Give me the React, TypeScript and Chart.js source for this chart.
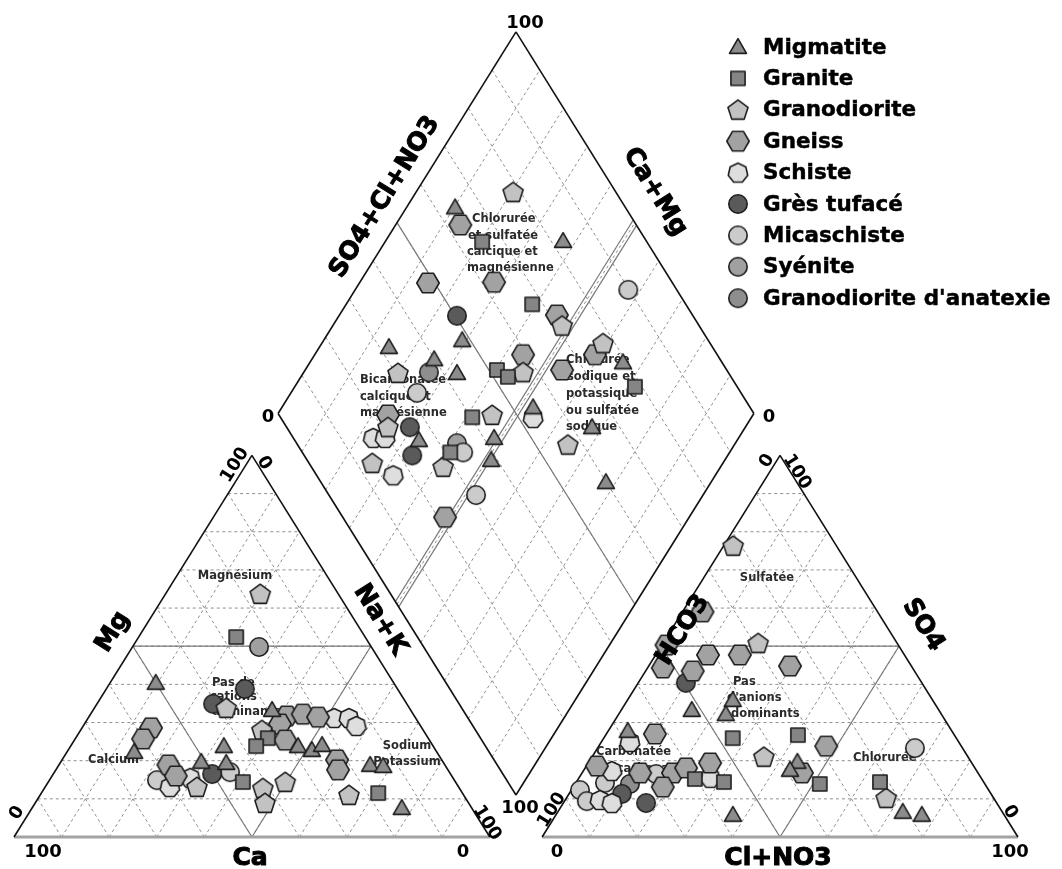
import React, { useEffect, useRef } from "react";
import { Chart, registerables } from "chart.js";

Chart.register(...registerables);

// ---------------- DATA (percentages) ----------------
// Cation triangle points: [Na+K %, Mg %]
// Anion triangle points:  [Cl+NO3 %, SO4 %]
// Diamond points:         [SO4+Cl+NO3 %, Na+K %]

const migmatiteCations: number[][] = [
  [9.6, 40.4], [14.1, 22.3], [37.6, 33.3], [47.8, 23.8], [51.2, 22.8], [52.7, 24.1],
  [32.2, 23.8], [29.5, 19.7], [34.9, 19.4], [65.4, 18.9], [68.3, 18.6], [77.7, 7.6],
];
const migmatiteAnions: number[][] = [
  [22.1, 35.9], [22.5, 32.2], [14.8, 33.3], [4.1, 27.8], [43.8, 19.7], [43.3, 17.6],
  [72.5, 6.6], [76.9, 5.8], [37.2, 5.8],
];
const migmatiteDiamond: number[][] = [
  [64.2, 10.2], [82.5, 37.3], [79.2, 65.8], [32.0, 14.6], [48.3, 29.1], [39.9, 25.7],
  [42.9, 32.3], [54.4, 52.8], [64.2, 67.8], [59.9, 77.9], [26.1, 33.1], [42.2, 48.6],
  [38.7, 50.9],
];

const graniteCations: number[][] = [
  [20.5, 52.4], [40.4, 25.9], [39.0, 23.8], [40.9, 14.4], [70.8, 11.5],
];
const graniteAnions: number[][] = [
  [27.1, 25.9], [40.4, 26.7], [51.4, 13.9], [63.8, 14.4], [24.5, 15.2], [31.0, 14.4],
];
const graniteDiamond: number[][] = [
  [65.4, 20.4], [67.7, 39.1], [78.5, 71.5], [51.7, 40.3], [53.1, 43.5], [40.3, 41.3],
  [31.1, 41.3],
];

const granodioriteCations: number[][] = [
  [19.9, 63.7], [27.7, 33.8], [38.1, 28.0], [31.9, 13.1], [45.9, 12.8], [48.3, 8.9],
  [49.8, 14.4], [64.9, 11.0],
];
const granodioriteAnions: number[][] = [
  [2.0, 76.3], [20.0, 50.8], [36.1, 21.0], [67.2, 10.2],
];
const granodioriteDiamond: number[][] = [
  [78.4, 20.4], [71.2, 48.2], [77.5, 59.1], [30.5, 19.9], [56.9, 46.1], [44.8, 45.2],
  [56.8, 65.0], [27.7, 41.7], [13.3, 26.3], [21.3, 24.9],
];

const gneissCations: number[][] = [
  [14.5, 28.6], [14.3, 25.7], [41.5, 31.7], [44.6, 32.2], [48.2, 31.4], [41.1, 29.6],
  [44.3, 25.4], [23.0, 18.9], [26.0, 16.0], [57.8, 20.2], [59.3, 17.6],
];
const gneissAnions: number[][] = [
  [4.2, 59.0], [1.0, 50.3], [11.0, 47.7], [17.7, 47.7], [29.7, 44.8], [3.2, 44.3],
  [9.9, 43.5], [10.2, 27.0], [47.8, 23.8], [46.2, 16.8], [25.6, 19.4], [2.2, 18.6],
  [12.2, 16.8], [19.1, 16.8], [18.8, 13.1], [21.2, 18.1],
];
const gneissDiamond: number[][] = [
  [63.0, 13.6], [48.6, 14.4], [62.6, 28.2], [71.5, 45.7], [74.3, 58.9], [65.4, 54.0],
  [59.2, 43.8], [22.9, 23.3], [21.5, 48.7],
];

const schisteCations: number[][] = [
  [51.7, 31.2], [54.8, 31.2], [57.4, 29.1], [29.3, 15.5], [26.2, 13.1],
];
const schisteAnions: number[][] = [
  [6.0, 24.9], [27.6, 15.5], [6.0, 17.3], [7.3, 9.7], [10.2, 8.9],
];
const schisteDiamond: number[][] = [
  [53.0, 54.2], [16.8, 23.2], [19.3, 25.7], [16.1, 32.3],
];

const gresCations: number[][] = [[29.1, 38.8], [24.4, 34.9], [33.4, 16.5]];
const gresAnions: number[][] = [[10.0, 40.4], [11.1, 11.3], [17.4, 8.9]];
const gresDiamond: number[][] = [[50.4, 24.8], [25.9, 29.5], [22.7, 33.7]];

const micaschisteCations: number[][] = [[22.6, 14.9], [36.9, 17.0]];
const micaschisteAnions: number[][] = [
  [66.7, 23.3], [15.7, 16.5], [1.8, 12.3], [4.7, 9.4], [6.1, 14.2],
];
const micaschisteDiamond: number[][] = [
  [89.8, 57.4], [31.9, 26.5], [33.8, 44.0], [30.9, 52.3],
];

const syeniteCations: number[][] = [[26.6, 49.8]];
const syeniteAnions: number[][] = [];
const syeniteDiamond: number[][] = [[33.7, 41.5]];

const anatexieCations: number[][] = [];
const anatexieAnions: number[][] = [[11.5, 13.9]];
const anatexieDiamond: number[][] = [[37.1, 26.3]];

const seriesNames = [
  "Migmatite", "Granite", "Granodiorite", "Gneiss", "Schiste",
  "Grès tufacé", "Micaschiste", "Syénite", "Granodiorite d'anatexie",
];

const gridSteps = [10, 20, 30, 40, 50, 60, 70, 80, 90];

// ---------------- GEOMETRY ----------------
const GAP = 11;
const H = Math.sqrt(3) / 2;
const X_MIN = -2.942, X_MAX = 220.26, Y_MIN = -7.263, Y_MAX = 189.97;

const cationXY = (p: number[]) => ({ x: p[0] + p[1] / 2, y: p[1] * H });
const anionXY = (p: number[]) => ({ x: 100 + GAP + p[0] + p[1] / 2, y: p[1] * H });
const DLX = 50 + GAP / 2, DLY = 100 * H + GAP * H;
const diamondXY = (p: number[]) => ({ x: DLX + 0.5 * (p[0] + p[1]), y: DLY + H * (p[0] - p[1]) });

type Shape = "triangle" | "square" | "pentagon" | "hexagon" | "heptagon" | "circle";
const seriesStyle: { shape: Shape; fill: string }[] = [
  { shape: "triangle", fill: "#8c8c8c" },
  { shape: "square", fill: "#858585" },
  { shape: "pentagon", fill: "#c2c2c2" },
  { shape: "hexagon", fill: "#a2a2a2" },
  { shape: "heptagon", fill: "#dedede" },
  { shape: "circle", fill: "#5a5a5a" },
  { shape: "circle", fill: "#cbcbcb" },
  { shape: "circle", fill: "#a0a0a0" },
  { shape: "circle", fill: "#8e8e8e" },
];
const seriesData = [
  [migmatiteCations, migmatiteAnions, migmatiteDiamond],
  [graniteCations, graniteAnions, graniteDiamond],
  [granodioriteCations, granodioriteAnions, granodioriteDiamond],
  [gneissCations, gneissAnions, gneissDiamond],
  [schisteCations, schisteAnions, schisteDiamond],
  [gresCations, gresAnions, gresDiamond],
  [micaschisteCations, micaschisteAnions, micaschisteDiamond],
  [syeniteCations, syeniteAnions, syeniteDiamond],
  [anatexieCations, anatexieAnions, anatexieDiamond],
];

function makeMarker(shape: Shape, fill: string): HTMLCanvasElement {
  const size = 26;
  const c = document.createElement("canvas");
  c.width = size;
  c.height = size;
  const ctx = c.getContext("2d")!;
  const cx = size / 2, cy = size / 2;
  ctx.fillStyle = fill;
  ctx.strokeStyle = "#1e1e1e";
  ctx.lineWidth = 1.6;
  ctx.lineJoin = "round";
  ctx.beginPath();
  const poly = (n: number, r: number, start: number, dy = 0) => {
    for (let i = 0; i < n; i++) {
      const a = start + (i * 2 * Math.PI) / n;
      const x = cx + r * Math.cos(a), y = cy + dy + r * Math.sin(a);
      if (i === 0) ctx.moveTo(x, y); else ctx.lineTo(x, y);
    }
    ctx.closePath();
  };
  if (shape === "circle") ctx.arc(cx, cy, 9.2, 0, Math.PI * 2);
  else if (shape === "triangle") poly(3, 9.8, -Math.PI / 2, 1.5);
  else if (shape === "square") poly(4, 10, Math.PI / 4);
  else if (shape === "pentagon") poly(5, 10.6, -Math.PI / 2, 0.8);
  else if (shape === "hexagon") poly(6, 11.2, 0);
  else poly(7, 10, -Math.PI / 2, 0.5);
  ctx.fill();
  ctx.stroke();
  return c;
}

const FONT = '"DejaVu Sans", "Liberation Sans", Arial, sans-serif';

type Txt = { t: string; x: number; y: number; rot?: number; align?: CanvasTextAlign; font: string; color?: string; heavy?: number };
const TICK = `bold 18px ${FONT}`;
const TITLE = `bold 25px ${FONT}`;
const ZONE = `bold 11.5px ${FONT}`;
const A = 58;

const texts: Txt[] = [
  // ticks
  { t: "100", x: 525, y: 23, font: TICK },
  { t: "0", x: 268, y: 417, font: TICK },
  { t: "0", x: 769, y: 417, font: TICK },
  { t: "100", x: 520, y: 808, font: TICK },
  { t: "100", x: 43, y: 852, font: TICK },
  { t: "0", x: 17, y: 813, rot: -A, font: TICK },
  { t: "100", x: 235, y: 465, rot: -A, font: TICK },
  { t: "0", x: 264, y: 463, rot: A, font: TICK },
  { t: "100", x: 487, y: 823, rot: A, font: TICK },
  { t: "0", x: 463, y: 852, font: TICK },
  { t: "0", x: 557, y: 852, font: TICK },
  { t: "100", x: 552, y: 810, rot: -A, font: TICK },
  { t: "0", x: 767, y: 461, rot: -A, font: TICK },
  { t: "100", x: 797, y: 472, rot: A, font: TICK },
  { t: "0", x: 1010, y: 812, rot: A, font: TICK },
  { t: "100", x: 1010, y: 852, font: TICK },
];

const titles: Txt[] = [
  { t: "SO4+Cl+NO3", x: 385, y: 197, rot: -A, font: TITLE, heavy: 1 },
  { t: "Ca+Mg", x: 655, y: 192, rot: A, font: TITLE, heavy: 1 },
  { t: "Mg", x: 113, y: 632, rot: -A, font: TITLE, heavy: 1 },
  { t: "Na+K", x: 380, y: 620, rot: A, font: TITLE, heavy: 1 },
  { t: "Ca", x: 250, y: 858, font: TITLE, heavy: 1 },
  { t: "HCO3", x: 683, y: 630, rot: -A, font: TITLE, heavy: 1 },
  { t: "SO4", x: 923, y: 625, rot: A, font: TITLE, heavy: 1 },
  { t: "Cl+NO3", x: 778, y: 858, font: TITLE, heavy: 1 },
];

const zoneTexts: Txt[] = [
  { t: "Chlorurée", x: 472, y: 219, align: "left", font: ZONE },
  { t: "et sulfatée", x: 468, y: 236, align: "left", font: ZONE },
  { t: "calcique et", x: 467, y: 252, align: "left", font: ZONE },
  { t: "magnésienne", x: 467, y: 268, align: "left", font: ZONE },
  { t: "Bicarbonatée", x: 360, y: 380, align: "left", font: ZONE },
  { t: "calcique et", x: 360, y: 397, align: "left", font: ZONE },
  { t: "magnésienne", x: 360, y: 413, align: "left", font: ZONE },
  { t: "Chlorurée", x: 566, y: 360, align: "left", font: ZONE },
  { t: "sodique et", x: 567, y: 377, align: "left", font: ZONE },
  { t: "potassique", x: 566, y: 394, align: "left", font: ZONE },
  { t: "ou sulfatée", x: 566, y: 411, align: "left", font: ZONE },
  { t: "sodique", x: 566, y: 427, align: "left", font: ZONE },
  { t: "Magnésium", x: 235, y: 576, font: ZONE },
  { t: "Pas de", x: 212, y: 683, align: "left", font: ZONE },
  { t: "cations", x: 210, y: 697, align: "left", font: ZONE },
  { t: "dominants", x: 212, y: 712, align: "left", font: ZONE },
  { t: "Calcium", x: 88, y: 760, align: "left", font: ZONE },
  { t: "Sodium", x: 407, y: 746, font: ZONE },
  { t: "Potassium", x: 407, y: 762, font: ZONE },
  { t: "Sulfatée", x: 767, y: 578, font: ZONE },
  { t: "Pas", x: 733, y: 682, align: "left", font: ZONE },
  { t: "d'anions", x: 727, y: 698, align: "left", font: ZONE },
  { t: "dominants", x: 731, y: 714, align: "left", font: ZONE },
  { t: "Carbonatée", x: 596, y: 752, align: "left", font: ZONE },
  { t: "Bicarbonatée", x: 604, y: 769, align: "left", font: ZONE },
  { t: "Chlorurée", x: 853, y: 758, align: "left", font: ZONE },
];

function drawText(ctx: CanvasRenderingContext2D, tx: Txt) {
  ctx.save();
  ctx.translate(tx.x, tx.y);
  if (tx.rot) ctx.rotate((tx.rot * Math.PI) / 180);
  ctx.font = tx.font;
  ctx.fillStyle = tx.color || "#000";
  ctx.textAlign = tx.align || "center";
  ctx.textBaseline = "middle";
  ctx.fillText(tx.t, 0, 0);
  if (tx.heavy) {
    ctx.strokeStyle = tx.color || "#000";
    ctx.lineWidth = tx.heavy;
    ctx.strokeText(tx.t, 0, 0);
  }
  ctx.restore();
}

function makePlugin(markers: HTMLCanvasElement[]) {
  return {
    id: "piper",
    beforeDatasetsDraw(chart: any) {
      const ctx: CanvasRenderingContext2D = chart.ctx;
      const xs = chart.scales.x, ys = chart.scales.y;
      const P = (p: { x: number; y: number }) => [xs.getPixelForValue(p.x), ys.getPixelForValue(p.y)];
      const seg = (a: { x: number; y: number }, b: { x: number; y: number }) => {
        const [x1, y1] = P(a), [x2, y2] = P(b);
        ctx.beginPath();
        ctx.moveTo(x1, y1);
        ctx.lineTo(x2, y2);
        ctx.stroke();
      };
      ctx.save();
      // dashed grid
      ctx.strokeStyle = "#8f8f8f";
      ctx.lineWidth = 1;
      ctx.setLineDash([3, 3]);
      for (const f of [cationXY, anionXY]) {
        for (const k of gridSteps) {
          seg(f([0, k]), f([100 - k, k]));
          seg(f([k, 0]), f([k, 100 - k]));
          seg(f([100 - k, 0]), f([0, 100 - k]));
        }
      }
      for (const k of gridSteps) {
        seg(diamondXY([k, 0]), diamondXY([k, 100]));
        seg(diamondXY([0, k]), diamondXY([100, k]));
      }
      ctx.setLineDash([]);
      // facies lines
      ctx.strokeStyle = "#7a7a7a";
      ctx.lineWidth = 1.2;
      for (const f of [cationXY, anionXY]) {
        seg(f([0, 50]), f([50, 50]));
        seg(f([50, 0]), f([50, 50]));
        seg(f([50, 0]), f([0, 50]));
      }
      seg(diamondXY([50, 0]), diamondXY([50, 100]));
      seg(diamondXY([0, 49.3]), diamondXY([100, 49.3]));
      seg(diamondXY([0, 50.7]), diamondXY([100, 50.7]));
      // outlines
      ctx.strokeStyle = "#a3a3a3";
      ctx.lineWidth = 3;
      seg(cationXY([0, 0]), cationXY([100, 0]));
      seg(anionXY([0, 0]), anionXY([100, 0]));
      ctx.strokeStyle = "#111";
      ctx.lineWidth = 1.6;
      seg(cationXY([0, 0]), cationXY([0, 100]));
      seg(cationXY([100, 0]), cationXY([0, 100]));
      seg(anionXY([0, 0]), anionXY([0, 100]));
      seg(anionXY([100, 0]), anionXY([0, 100]));
      seg(diamondXY([0, 0]), diamondXY([100, 0]));
      seg(diamondXY([100, 0]), diamondXY([100, 100]));
      seg(diamondXY([100, 100]), diamondXY([0, 100]));
      seg(diamondXY([0, 100]), diamondXY([0, 0]));
      // text
      for (const tx of texts) drawText(ctx, tx);
      for (const tx of zoneTexts) drawText(ctx, { ...tx, color: "#2a2a2a" });
      ctx.restore();
    },
    afterDraw(chart: any) {
      const ctx: CanvasRenderingContext2D = chart.ctx;
      ctx.save();
      for (const tx of titles) drawText(ctx, tx);
      seriesNames.forEach((name, i) => {
        const y = 47 + i * 31.4;
        const m = markers[i];
        ctx.drawImage(m, 738 - m.width / 2, y - m.height / 2);
        drawText(ctx, { t: name, x: 763, y: y + 1, align: "left", font: `bold 21.5px ${FONT}`, heavy: 0.45 });
      });
      ctx.restore();
    },
  };
}

export default function App() {
  const ref = useRef<HTMLCanvasElement>(null);
  useEffect(() => {
    const canvas = ref.current!;
    const markers = seriesStyle.map((s) => makeMarker(s.shape, s.fill));
    const chart = new Chart(canvas, {
      type: "scatter",
      data: {
        datasets: seriesNames.map((name, i) => ({
          label: name,
          data: [
            ...seriesData[i][0].map(cationXY),
            ...seriesData[i][1].map(anionXY),
            ...seriesData[i][2].map(diamondXY),
          ],
          pointStyle: markers[i] as any,
          pointRadius: 10,
          pointHoverRadius: 10,
          showLine: false,
        })),
      },
      options: {
        animation: false,
        responsive: true,
        maintainAspectRatio: false,
        events: [],
        clip: false as any,
        layout: { padding: 0, autoPadding: false },
        scales: {
          x: { type: "linear", min: X_MIN, max: X_MAX, display: false },
          y: { type: "linear", min: Y_MIN, max: Y_MAX, display: false },
        },
        plugins: { legend: { display: false }, tooltip: { enabled: false } },
      },
      plugins: [makePlugin(markers)],
    });
    return () => chart.destroy();
  }, []);
  return (
    <div style={{ position: "absolute", left: 0, top: 0, width: 1062, height: 869, background: "#fff" }}>
      <canvas ref={ref} />
    </div>
  );
}
